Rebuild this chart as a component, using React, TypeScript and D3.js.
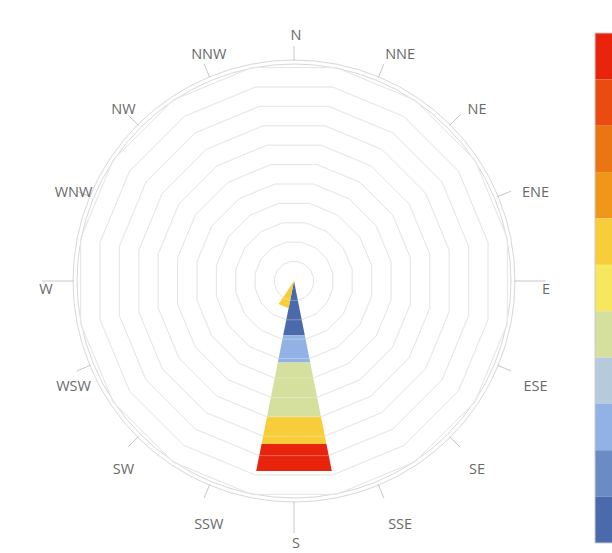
import React from 'react';
import * as d3 from 'd3';

// compass directions, clockwise from north
const directions = ['N', 'NNE', 'NE', 'ENE', 'E', 'ESE', 'SE', 'SSE', 'S', 'SSW', 'SW', 'WSW', 'W', 'WNW', 'NW', 'NNW'];
// directions with the long tick
const longTicks = ['E', 'S', 'W'];

// wind speed bins, innermost first
const speedBins = ['0-1', '1-2', '2-3', '3-4', '4-5', '5-6', '6-7', '7-8', '8-9', '9-10', '10+'];
const binColors = ['#4b6aab', '#6a8bc3', '#92b1e5', '#b5cbdb', '#d5df9e', '#f6e75c', '#f8cd3a', '#f09618', '#e97612', '#ea4b10', '#e8250c'];

// frequency per speed bin (rows) and direction (columns)
const frequencies = [
  [0, 0, 0, 0, 0, 0, 0, 0, 2.8, 0, 0, 0, 0, 0, 0, 0],
  [0, 0, 0, 0, 0, 0, 0, 0, 0, 0, 0, 0, 0, 0, 0, 0],
  [0, 0, 0, 0, 0, 0, 0, 0, 1.4, 0, 0, 0, 0, 0, 0, 0],
  [0, 0, 0, 0, 0, 0, 0, 0, 0, 0, 0, 0, 0, 0, 0, 0],
  [0, 0, 0, 0, 0, 0, 0, 0, 2.8, 0, 0, 0, 0, 0, 0, 0],
  [0, 0, 0, 0, 0, 0, 0, 0, 0, 0, 0, 0, 0, 0, 0, 0],
  [0, 0, 0, 0, 0, 0, 0, 0, 1.4, 1.4, 0, 0, 0, 0, 0, 0],
  [0, 0, 0, 0, 0, 0, 0, 0, 0, 0, 0, 0, 0, 0, 0, 0],
  [0, 0, 0, 0, 0, 0, 0, 0, 0, 0, 0, 0, 0, 0, 0, 0],
  [0, 0, 0, 0, 0, 0, 0, 0, 0, 0, 0, 0, 0, 0, 0, 0],
  [0, 0, 0, 0, 0, 0, 0, 0, 1.4, 0, 0, 0, 0, 0, 0, 0],
];

const ringTicks = [1, 2, 3, 4, 5, 6, 7, 8, 9, 10, 11];

const W = 612;
const H = 553;
const cx = 294;
const cy = 281;

const App: React.FC = () => {
  const half = Math.PI / 16;
  const angle = d3.scaleBand<string>()
    .domain(directions)
    .range([-half, 2 * Math.PI - half])
    .padding(0);
  const step = angle.bandwidth();

  // apothem of the polygon rings
  const r = d3.scaleLinear().domain([0, 11]).range([0, 213.4]);
  const corner = (v: number) => r(v) / Math.cos(half);

  const pt = (a: number, rad: number): [number, number] => [cx + rad * Math.sin(a), cy - rad * Math.cos(a)];
  const closed = d3.line().curve(d3.curveLinearClosed);

  const table = directions.map((d, j) => {
    const row: Record<string, any> = { dir: d };
    speedBins.forEach((b, i) => { row[b] = frequencies[i][j]; });
    return row;
  });
  const stacked = d3.stack<Record<string, any>>().keys(speedBins)(table);

  const ringPath = (v: number) =>
    closed(directions.map(d => pt(angle(d)!, corner(v)))) || undefined;

  const legendTop = 33;
  const legendBottom = 543;
  const legendY = d3.scaleBand<number>()
    .domain(d3.range(binColors.length))
    .range([legendTop, legendBottom]);

  return (
    <svg width={W} height={H} style={{ position: 'absolute', left: 0, top: 0, background: '#fff' }}
      fontFamily="'Open Sans', sans-serif">
      {/* outer circles */}
      <circle cx={cx} cy={cy} r={217} fill="none" stroke="#d8d8d8" />
      <circle cx={cx} cy={cy} r={221} fill="none" stroke="#d8d8d8" />

      {/* polygon grid */}
      {ringTicks.map(t => (
        <path key={t} d={ringPath(t)} fill="none" stroke="#dcdcdc" strokeWidth={1} />
      ))}

      {/* stacked wedges */}
      {stacked.map((layer, i) => (
        <g key={layer.key} fill={binColors[i]}>
          {layer.map((seg, j) => {
            if (seg[1] - seg[0] <= 0) return null;
            const a0 = angle(directions[j])!;
            const a1 = a0 + step;
            const pts = [pt(a0, corner(seg[0])), pt(a1, corner(seg[0])), pt(a1, corner(seg[1])), pt(a0, corner(seg[1]))];
            return <path key={j} d={closed(pts) || undefined} />;
          })}
        </g>
      ))}

      {/* faint grid over the wedges */}
      {ringTicks.map(t => (
        <path key={'o' + t} d={ringPath(t)} fill="none" stroke="#fff" strokeOpacity={0.3} strokeWidth={1} />
      ))}

      {/* direction ticks and labels */}
      {directions.map(d => {
        const a = angle(d)! + step / 2;
        const [x1, y1] = pt(a, 220);
        const [x2, y2] = pt(a, longTicks.includes(d) ? 252 : 235);
        return (
          <g key={d}>
            <line x1={x1} y1={y1} x2={x2} y2={y2} stroke="#c8c8c8" />
            <text
              x={cx + 250 * Math.sin(a) + 4.25 * d.length - 2.25}
              y={cy + 8 - 254 * Math.cos(a)}
              dy="0.35em"
              textAnchor="middle"
              fontSize={14.5}
              fill="#6a6a6a"
            >
              {d}
            </text>
          </g>
        );
      })}

      {/* colour legend */}
      <g>
        {binColors.slice().reverse().map((c, i) => (
          <rect key={c} x={595} y={legendY(i)!} width={30} height={legendY.bandwidth()} fill={c} />
        ))}
        <rect x={595} y={legendTop} width={30} height={legendBottom - legendTop} fill="none" stroke="#ccc" />
      </g>
    </svg>
  );
};

export default App;
